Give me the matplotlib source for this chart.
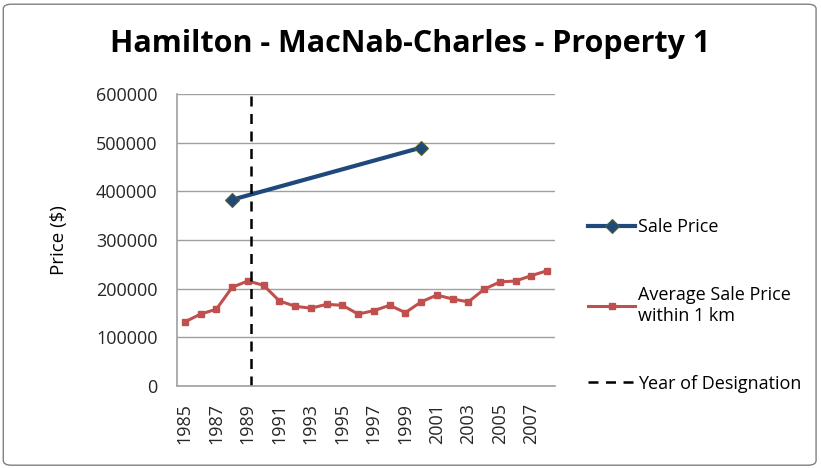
import matplotlib.pyplot as plt
from matplotlib.patches import FancyBboxPatch

years = list(range(1985, 2009))
avg_price = [132000, 148000, 158000, 203000, 216000, 207000, 175000, 164000,
             160000, 168000, 166000, 148000, 155000, 166000, 151000, 173000,
             187000, 179000, 173000, 199000, 214000, 216000, 227000, 237000]
sale_years = [1988, 2000]
sale_price = [383000, 490000]
designation_year = 1989

plt.rcParams['font.family'] = ['Open Sans', 'DejaVu Sans']

fig = plt.figure(figsize=(8.21, 4.68), dpi=100)
ax = fig.add_axes([0.2156, 0.175, 0.4604, 0.624])

idx = {y: i for i, y in enumerate(years)}

ax.plot([idx[y] for y in sale_years], sale_price, color='#1f497d', lw=3,
        marker='D', ms=7, mfc='#1f497d', mec='#4f6228', mew=0.8, label='Sale Price')
ax.plot(range(len(years)), avg_price, color='#c0504d', lw=2.2,
        marker='s', ms=5, label='Average Sale Price\nwithin 1 km')
ax.axvline(idx[designation_year] + 0.2, color='black', lw=1.8, ls=(0, (4, 3)),
           label='Year of Designation')

ax.set_xlim(-0.5, len(years) - 0.5)
ax.set_ylim(0, 600000)
ax.set_yticks(range(0, 600001, 100000))
ax.yaxis.grid(True, color='#a0a0a0', lw=1)
ax.set_axisbelow(True)
ax.set_xticks(range(0, len(years), 2))
ax.set_xticklabels([str(y) for y in years[::2]], rotation=90, fontsize=13)
ax.tick_params(axis='y', labelsize=13, length=0, pad=14, labelcolor='#262626')
ax.tick_params(axis='x', length=0, pad=12, labelcolor='#262626')
for s in ['top', 'right']:
    ax.spines[s].set_visible(False)
for s in ['left', 'bottom']:
    ax.spines[s].set_color('#a0a0a0')
    ax.spines[s].set_linewidth(1.2)

ax.set_ylabel('Price ($)', fontsize=13.5, labelpad=20)
fig.text(0.5, 0.905, 'Hamilton - MacNab-Charles - Property 1', ha='center',
         va='center', fontsize=22, fontweight='bold')

fig.legend(loc='upper left', bbox_to_anchor=(0.697, 0.568), frameon=False,
           fontsize=13, labelspacing=2.75, handlelength=2.6, handletextpad=0.15)

fig.patches.append(FancyBboxPatch((0.004, 0.006), 0.99, 0.985, boxstyle='round,pad=0,rounding_size=0.01',
                                  transform=fig.transFigure, fill=False,
                                  edgecolor='#808080', lw=1))

fig.savefig('out.png', dpi=100)
